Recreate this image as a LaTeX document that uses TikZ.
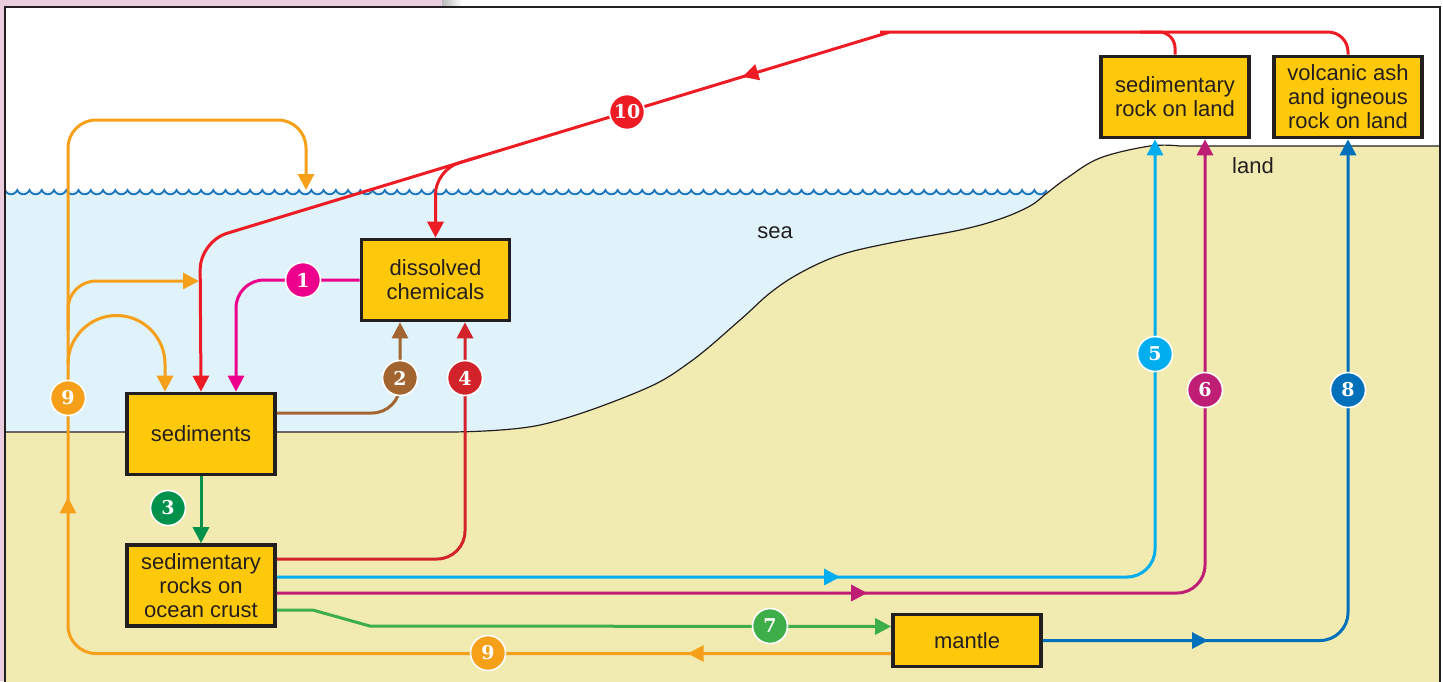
\documentclass[tikz,border=0pt]{standalone}
\usepackage{fontspec}
\setsansfont{Liberation Sans}
\newfontfamily\numfont{DejaVu Serif}
\usepackage{xcolor}
\usepackage{tikz}
\usetikzlibrary{arrows.meta,decorations.markings}

\definecolor{pagepink}{HTML}{EBCDE0}
\definecolor{seablue}{HTML}{E0F2FA}
\definecolor{landtan}{HTML}{F1EBB2}
\definecolor{boxfill}{HTML}{FFC90B}
\definecolor{boxline}{HTML}{231F20}
\definecolor{textgray}{HTML}{231F20}
\definecolor{wavecol}{HTML}{1B75BC}
\definecolor{c1}{HTML}{EC008C}
\definecolor{c2}{HTML}{A3652F}
\definecolor{c3}{HTML}{00924B}
\definecolor{c4}{HTML}{D2232A}
\definecolor{c5}{HTML}{00AEEF}
\definecolor{c6}{HTML}{BE1E73}
\definecolor{c7}{HTML}{3EAE49}
\definecolor{c8}{HTML}{0070BA}
\definecolor{c9}{HTML}{F6A01A}
\definecolor{c10}{HTML}{ED1C24}

\begin{document}
\begin{tikzpicture}[
  x=0.5pt, y=-0.5pt,
  font=\sffamily\fontsize{11}{12}\selectfont,
  >={Triangle[length=8pt,width=8pt]},
  box/.style={draw=boxline, line width=1.8pt, fill=boxfill, text=textgray, align=center, minimum width=74pt, minimum height=40.5pt, inner sep=1pt},
  flow/.style={draw, color=#1, line width=1.5pt, rounded corners=14pt},
  midarrow/.style={postaction={decorate, decoration={markings, mark=at position #1 with {\arrow{>}}}}},
  numdot/.style={circle, fill=#1, draw=white, line width=0.8pt, text=white, minimum size=17.5pt, inner sep=0pt, font=\numfont\bfseries\fontsize{9.5}{9.5}\selectfont},
  wave/.style={draw=wavecol, line width=0.9pt},
  lbl/.style={text=textgray},
]
\useasboundingbox (0,0) rectangle (1443,681);
\fill[white] (0,0) rectangle (1443,681);
\fill[pagepink] (0,0) rectangle (442,7);
\fill[pagepink] (0,0) rectangle (5,681);
\shade[left color=gray!55, right color=white] (442,0) rectangle (462,7);

% sea, surface and sea floor
\fill[seablue] (5,191) rectangle (1060,440);
\draw[wave] (5,190) \foreach \i in {1,...,85} {arc[start angle=160, end angle=20, radius=6.52]};
\filldraw[fill=landtan, draw=boxline, line width=0.6pt] (5,432) -- plot[smooth, tension=0.6] coordinates {(450,432) (540,425) (640,391) (690,362) (740,320) (770,293) (800,273) (840,255) (890,243) (960,230) (1000,219) (1030,206) (1047,193) (1067,178) (1100,158) (1150,146) (1180,146)} -- (1440,146) -- (1440,700) -- (5,700) -- cycle;

\node[lbl] (sea) at (775,233) {sea};
\node[lbl] (land) at (1253,166) {land};

\node[box] (dc) at (435.5,280) {dissolved\\chemicals};
\node[box] (sed) at (201,434) {sediments};
\node[box] (sr) at (201,585.5) {sedimentary\\rocks on\\ocean crust};
\node[box, minimum height=26pt] (mt) at (967,640.5) {mantle};
\node[box] (lr) at (1175,97) {sedimentary\\rock on land};
\node[box] (vol) at (1348,97) {volcanic ash\\and igneous\\rock on land};

\coordinate (surf) at (306,190);
\coordinate (b9a) at (68,330);
\coordinate (t9a) at (199,281);
\coordinate (b9b) at (68,364);
\coordinate (top10) at (1140,32);
\coordinate (d10) at (480,156.5);
\coordinate (j10) at (435.5,170);

\draw[flow=c9, ->, midarrow=0.125, midarrow=0.594] ([yshift=-6.5pt]mt.west) -| (68,120) -| (surf);
\draw[flow=c9, ->] (b9a) |- (t9a);
\draw[flow=c9, ->, sharp corners] (b9b) arc[start angle=180, end angle=360, radius=48.5] -- ([xshift=-18pt]sed.north);

\draw[flow=c10, ->, midarrow=0.477] (vol.north) [rounded corners=10pt] |- (900,32) [sharp corners] -- (890,32) [rounded corners=14pt] -- (200,241.5) -- (sed.north);
\draw[flow=c10, rounded corners=8pt] (lr.north) |- (top10);
\draw[flow=c10, ->, rounded corners=12pt] (d10) -- (j10) -- (dc.north);

\draw[flow=c1, ->] (dc.west) -| ([xshift=17.5pt]sed.north);
\draw[flow=c2, ->] ([yshift=10.5pt]sed.east) -| ([xshift=-17.75pt]dc.south);
\draw[flow=c3, ->] (sed.south) -- (sr.north);
\draw[flow=c4, ->] ([yshift=13.25pt]sr.east) -| ([xshift=14.75pt]dc.south);
\draw[flow=c5, ->, midarrow=0.432] ([yshift=4.25pt]sr.east) -| ([xshift=-10pt]lr.south);
\draw[flow=c6, ->, midarrow=0.431] ([yshift=-3.75pt]sr.east) -| ([xshift=15pt]lr.south);
\draw[flow=c7, ->, sharp corners] ([yshift=-12.25pt]sr.east) -- ++(36,0) -- ++(57,16) -- ([yshift=7pt]mt.west);
\draw[flow=c8, ->, midarrow=0.208] (mt.east) -| (vol.south);

\node[numdot=c1] (n1) at (303,280) {1};
\node[numdot=c2] (n2) at (400,378) {2};
\node[numdot=c3] (n3) at (168,508) {3};
\node[numdot=c4] (n4) at (465,378) {4};
\node[numdot=c5] (n5) at (1155,354) {5};
\node[numdot=c6] (n6) at (1205,390) {6};
\node[numdot=c7] (n7) at (770,626) {7};
\node[numdot=c8] (n8) at (1348,390) {8};
\node[numdot=c9] (n9a) at (68,398) {9};
\node[numdot=c9] (n9b) at (488,653) {9};
\node[numdot=c10] (n10) at (627,112) {10};

\draw[boxline, line width=0.8pt] (5,7) rectangle (1440,700);
\end{tikzpicture}
\end{document}
